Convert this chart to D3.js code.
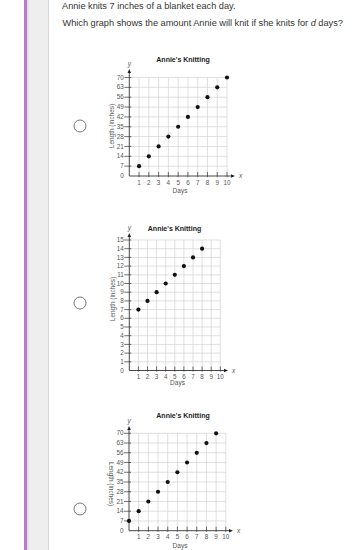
<!DOCTYPE html>
<html><head><meta charset="utf-8">
<script src="https://cdn.jsdelivr.net/npm/d3@7"></script>
<style>
html,body{margin:0;padding:0;background:#fff;}
svg{display:block;font-family:"Liberation Sans",Arial,sans-serif;}
</style></head>
<body>
<script>
// ---- data ----
const questionLines = ["Annie knits 7 inches of a blanket each day.", "Which graph shows the amount Annie will knit if she knits for ", " days?"];
const chartTitle = "Annie's Knitting";
const xAxisLabel = "Days";
const yAxisLabel = "Length (inches)";
const xTicks = [1,2,3,4,5,6,7,8,9,10];
const yTicksA = [0,7,14,21,28,35,42,49,56,63,70];
const yTicksB = [0,1,2,3,4,5,6,7,8,9,10,11,12,13,14,15];
const yTicksC = [0,7,14,21,28,35,42,49,56,63,70];
const daysA = [1,2,3,4,5,6,7,8,9,10];
const lengthA = [7,14,21,28,35,42,49,56,63,70];
const daysB = [1,2,3,4,5,6,7,8];
const lengthB = [7,8,9,10,11,12,13,14];
const daysC = [0,1,2,3,4,5,6,7,8,9];
const lengthC = [7,14,21,28,35,42,49,56,63,70];

const W = 356, H = 550;
const svg = d3.select("body").append("svg").attr("width", W).attr("height", H);

// left frame
svg.append("rect").attr("x",27).attr("y",0).attr("width",21).attr("height",H).attr("fill","#eeeeee");
svg.append("rect").attr("x",48).attr("y",0).attr("width",1).attr("height",H).attr("fill","#d8d8d8");
svg.append("rect").attr("x",24).attr("y",0).attr("width",3).attr("height",H).attr("fill","#b67cc6");
svg.append("rect").attr("x",27).attr("y",0).attr("width",1.5).attr("height",H).attr("fill","#e8d2ee");

// question text
svg.append("text").attr("x",62).attr("y",9).attr("font-size",9.2).attr("fill","#333").text(questionLines[0]);
const q2 = svg.append("text").attr("x",62.5).attr("y",26).attr("font-size",9.2).attr("fill","#333");
q2.append("tspan").text(questionLines[1]);
q2.append("tspan").attr("font-style","italic").text("d");
q2.append("tspan").text(questionLines[2]);

function drawChart(cfg) {
  const g = svg.append("g");
  const x = d3.scaleLinear().domain([0,10]).range([cfg.x0, cfg.x10]);
  const y = d3.scaleLinear().domain([0, cfg.yMax]).range([cfg.y0, cfg.yTop]);
  // grid
  g.selectAll(".gv").data(xTicks).join("line")
    .attr("x1", d=>x(d)).attr("x2", d=>x(d)).attr("y1", y(0)).attr("y2", y(cfg.yMax))
    .attr("stroke","#d2d2d2").attr("stroke-width",0.7);
  g.selectAll(".gh").data(cfg.yTicks.slice(1)).join("line")
    .attr("x1", x(0)).attr("x2", x(10)).attr("y1", d=>y(d)).attr("y2", d=>y(d))
    .attr("stroke","#d2d2d2").attr("stroke-width",0.7);
  // axes
  g.append("line").attr("x1",x(0)).attr("x2",cfg.xArrow-3).attr("y1",y(0)).attr("y2",y(0)).attr("stroke","#333").attr("stroke-width",0.9);
  g.append("line").attr("x1",x(0)).attr("x2",x(0)).attr("y1",y(0)).attr("y2",cfg.yArrow+3).attr("stroke","#333").attr("stroke-width",0.9);
  g.append("path").attr("d",`M${cfg.xArrow},${y(0)} l-4,-1.8 l0,3.6 z`).attr("fill","#222");
  g.append("path").attr("d",`M${x(0)},${cfg.yArrow} l-1.8,4 l3.6,0 z`).attr("fill","#222");
  // ticks
  g.selectAll(".tx").data(xTicks).join("line")
    .attr("x1", d=>x(d)).attr("x2", d=>x(d)).attr("y1", y(0)-4).attr("y2", y(0)+1.2)
    .attr("stroke","#333").attr("stroke-width",0.7);
  g.selectAll(".ty").data(cfg.yTicks.slice(1)).join("line")
    .attr("x1", x(0)-5).attr("x2", x(0)+2).attr("y1", d=>y(d)).attr("y2", d=>y(d))
    .attr("stroke","#333").attr("stroke-width",0.7);
  // tick labels
  g.selectAll(".lx").data(xTicks).join("text")
    .attr("x", d=>x(d)).attr("y", y(0)+8.5).attr("text-anchor","middle")
    .attr("font-size",6.3).attr("fill","#555").text(d=>d);
  g.selectAll(".ly").data(cfg.yTicks).join("text")
    .attr("x", x(0)-5.5).attr("y", d=>y(d)+2.1).attr("text-anchor","end")
    .attr("font-size",6.3).attr("fill","#555").text(d=>d);
  // axis letters
  g.append("text").attr("x", cfg.xArrow+4).attr("y", y(0)+2).attr("font-size",6.5).attr("font-style","italic").attr("fill","#555").text("x");
  g.append("text").attr("x", x(0)).attr("y", cfg.yArrow-3).attr("text-anchor","middle").attr("font-size",6.5).attr("font-style","italic").attr("fill","#555").text("y");
  // titles
  g.append("text").attr("x", cfg.titleX).attr("y", cfg.titleY).attr("text-anchor","middle")
    .attr("font-size",7).attr("font-weight","bold").attr("fill","#222").text(chartTitle);
  g.append("text").attr("x", cfg.daysX).attr("y", cfg.daysY).attr("text-anchor","middle")
    .attr("font-size",6.5).attr("fill","#555").text(xAxisLabel);
  g.append("text").attr("transform", `translate(${cfg.ylabX},${cfg.ylabY}) rotate(${cfg.ylabRot})`)
    .attr("text-anchor","middle").attr("dy","0.35em")
    .attr("font-size",6.4).attr("fill","#555").text(yAxisLabel);
  // points
  g.selectAll(".pt").data(cfg.days).join("circle")
    .attr("cx", (d)=>x(d)).attr("cy", (d,i)=>y(cfg.lengths[i])).attr("r",2.1).attr("fill","#111");
  // radio
  svg.append("circle").attr("cx",80).attr("cy",cfg.radioY).attr("r",6).attr("fill","#fff").attr("stroke","#777").attr("stroke-width",1);
}

drawChart({x0:129.3, x10:227, y0:176, yTop:77.5, yMax:70, yTicks:yTicksA, xArrow:235, yArrow:69,
  titleX:183, titleY:61.5, daysX:180, daysY:193, ylabX:112, ylabY:126, ylabRot:-90,
  days:daysA, lengths:lengthA, radioY:126});
drawChart({x0:129.3, x10:220.3, y0:370.5, yTop:240, yMax:15, yTicks:yTicksB, xArrow:228, yArrow:233,
  titleX:174.5, titleY:230.5, daysX:177.5, daysY:384.5, ylabX:113, ylabY:299, ylabRot:-90,
  days:daysB, lengths:lengthB, radioY:303});
drawChart({x0:129, x10:225.8, y0:530.7, yTop:433.3, yMax:70, yTicks:yTicksC, xArrow:233, yArrow:426,
  titleX:183, titleY:417.5, daysX:180, daysY:548, ylabX:111.5, ylabY:484, ylabRot:90,
  days:daysC, lengths:lengthC, radioY:509});
</script>
</body></html>
